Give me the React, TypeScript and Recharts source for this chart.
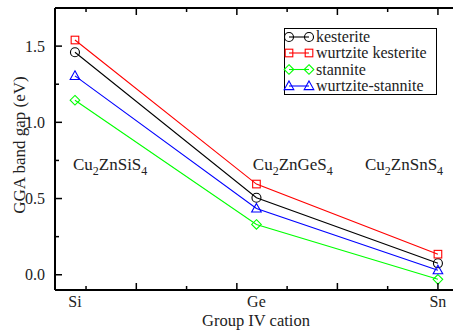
import React from 'react';
import { LineChart, Line, XAxis, YAxis, ReferenceDot } from 'recharts';

// group IV cations, placed at equally spaced positions on the x axis
const cations = ['Si', 'Ge', 'Sn'];
const cationPos = [1, 2, 3];

// GGA band gaps (eV)
const kesterite = [1.46, 0.505, 0.075];
const wurtziteKesterite = [1.54, 0.595, 0.135];
const stannite = [1.145, 0.33, -0.03];
const wurtziteStannite = [1.305, 0.435, 0.03];

// axis ticks (x ticks don't line up with the cations in the original plot)
const xTickPos = [1.061, 1.338, 1.615, 1.892, 2.169, 2.446, 2.723, 3.0];
const yTickPos = [0, 0.25, 0.5, 0.75, 1, 1.25, 1.5];

// compound annotations: start x, baseline y, label
const compounds = ['Cu2ZnSiS4', 'Cu2ZnGeS4', 'Cu2ZnSnS4'];
const compoundX = [0.989, 1.98, 2.598];
const compoundY = [0.69, 0.69, 0.69];

const FONT = '"Liberation Serif", "Times New Roman", serif';
const W = 453;
const H = 332;

const series = [
  { key: 'kesterite', name: 'kesterite', color: '#000000', shape: 'circle', values: kesterite },
  { key: 'wk', name: 'wurtzite kesterite', color: '#ff0000', shape: 'square', values: wurtziteKesterite },
  { key: 'stannite', name: 'stannite', color: '#00ff00', shape: 'diamond', values: stannite },
  { key: 'ws', name: 'wurtzite-stannite', color: '#0000ff', shape: 'triangle', values: wurtziteStannite },
];

const data = cationPos.map((x, i) => {
  const row: any = { x };
  series.forEach((s) => {
    row[s.key] = s.values[i];
  });
  return row;
});

const xTicksAll = Array.from(new Set([...xTickPos, ...cationPos])).sort((a, b) => a - b);
const near = (a: number, b: number) => Math.abs(a - b) < 1e-6;

const Marker = ({ shape, cx, cy, color }: any) => {
  const common = { fill: 'none', stroke: color, strokeWidth: 1.1 };
  switch (shape) {
    case 'circle':
      return <circle cx={cx} cy={cy} r={4.5} {...common} />;
    case 'square':
      return <rect x={cx - 3.8} y={cy - 3.8} width={7.6} height={7.6} {...common} />;
    case 'diamond':
      return (
        <polygon
          points={`${cx},${cy - 4.8} ${cx + 4.8},${cy} ${cx},${cy + 4.8} ${cx - 4.8},${cy}`}
          {...common}
        />
      );
    default:
      return (
        <polygon
          points={`${cx},${cy - 5} ${cx + 4.8},${cy + 3.6} ${cx - 4.8},${cy + 3.6}`}
          {...common}
        />
      );
  }
};

const tickLen = (i: number) => (i % 2 === 1 ? 7 : 4);
const TICK_W = 1.5;

const BottomTick = ({ x, y, payload }: any) => {
  const ti = xTickPos.findIndex((t) => near(t, payload.value));
  const li = cationPos.findIndex((t) => near(t, payload.value));
  return (
    <g>
      {ti >= 0 && (
        <path d={`M${x},${y} L${x},${y - tickLen(ti)}`} stroke="#000" strokeWidth={TICK_W} fill="none" />
      )}
      {li >= 0 && (
        <text x={x} y={y + 17} textAnchor="middle" fontFamily={FONT} fontSize={16} fill="#222">
          {cations[li]}
        </text>
      )}
    </g>
  );
};

const TopTick = ({ x, y, payload }: any) => {
  const ti = xTickPos.findIndex((t) => near(t, payload.value));
  return <path d={`M${x},${y} L${x},${y + tickLen(ti)}`} stroke="#000" strokeWidth={TICK_W} fill="none" />;
};

const yMajor = (v: number) => near(v % 0.5, 0);

const LeftTick = ({ x, y, payload }: any) => {
  const v = payload.value;
  const major = yMajor(v);
  return (
    <g>
      <path d={`M${x},${y} L${x + (major ? 7 : 4)},${y}`} stroke="#000" strokeWidth={TICK_W} fill="none" />
      {major && (
        <text x={x - 10} y={y + 5.5} textAnchor="end" fontFamily={FONT} fontSize={16} fill="#222">
          {v.toFixed(1)}
        </text>
      )}
    </g>
  );
};

const RightTick = ({ x, y, payload }: any) => {
  const major = yMajor(payload.value);
  return <path d={`M${x},${y} L${x - (major ? 7 : 4)},${y}`} stroke="#000" strokeWidth={TICK_W} fill="none" />;
};

// "Cu2ZnSiS4" -> digits as subscripts
const Formula = ({ cx, cy, label }: any) => {
  const parts = label.match(/\d+|\D+/g) || [];
  return (
    <text x={cx} y={cy} fontFamily={FONT} fontSize={17} fill="#222">
      {parts.map((p: string, i: number) =>
        /\d/.test(p) ? (
          <tspan key={i} fontSize={12} dy={5}>
            {p}
          </tspan>
        ) : (
          <tspan key={i} dy={i === 0 ? 0 : -5}>
            {p}
          </tspan>
        )
      )}
    </text>
  );
};

const LegendBox = () => {
  const left = 284.5;
  const top = 28.5;
  const rows = [37, 53, 69.5, 86];
  return (
    <g>
      <rect x={left} y={top} width={152} height={66} fill="#fff" stroke="#000" strokeWidth={1} />
      {series.map((s, i) => (
        <g key={s.key}>
          <line x1={289} x2={309} y1={rows[i]} y2={rows[i]} stroke={s.color} strokeWidth={1.1} />
          <Marker shape={s.shape} cx={289} cy={rows[i]} color={s.color} />
          <Marker shape={s.shape} cx={309} cy={rows[i]} color={s.color} />
          <text x={316} y={rows[i] + 5} fontFamily={FONT} fontSize={16} fill="#222">
            {s.name}
          </text>
        </g>
      ))}
    </g>
  );
};

export default function App() {
  return (
    <div style={{ position: 'absolute', left: 0, top: 0, width: W, height: H, background: '#fff' }}>
      <LineChart width={W} height={H} data={data} margin={{ top: 0, right: 0, bottom: 0, left: 0 }}>
        <XAxis
          dataKey="x"
          type="number"
          domain={[0.89, 3.083]}
          allowDataOverflow
          ticks={xTicksAll}
          interval={0}
          tickSize={0}
          tickMargin={0}
          tickLine={false}
          tick={<BottomTick />}
          axisLine={{ stroke: '#000', strokeWidth: 2 }}
          height={42}
        />
        <XAxis
          xAxisId="top"
          orientation="top"
          dataKey="x"
          type="number"
          domain={[0.89, 3.083]}
          allowDataOverflow
          ticks={xTickPos}
          interval={0}
          tickSize={0}
          tickMargin={0}
          tickLine={false}
          tick={<TopTick />}
          axisLine={{ stroke: '#000', strokeWidth: 2 }}
          height={8}
        />
        <YAxis
          type="number"
          domain={[-0.1, 1.75]}
          allowDataOverflow
          ticks={yTickPos}
          interval={0}
          tickSize={0}
          tickMargin={0}
          tickLine={false}
          tick={<LeftTick />}
          axisLine={{ stroke: '#000', strokeWidth: 2 }}
          width={55}
        />
        <YAxis
          yAxisId="right"
          orientation="right"
          type="number"
          domain={[-0.1, 1.75]}
          allowDataOverflow
          ticks={yTickPos}
          interval={0}
          tickSize={0}
          tickMargin={0}
          tickLine={false}
          tick={<RightTick />}
          axisLine={{ stroke: '#000', strokeWidth: 2 }}
          width={0}
        />
        {series.map((s) => (
          <Line
            key={s.key}
            dataKey={s.key}
            stroke={s.color}
            strokeWidth={1.1}
            isAnimationActive={false}
            dot={(p: any) => <Marker key={`${s.key}-${p.index}`} shape={s.shape} cx={p.cx} cy={p.cy} color={s.color} />}
            activeDot={false}
          />
        ))}
        {compounds.map((c, i) => (
          <ReferenceDot
            key={c}
            x={compoundX[i]}
            y={compoundY[i]}
            r={0}
            shape={(p: any) => <Formula cx={p.cx} cy={p.cy} label={c} />}
          />
        ))}
      </LineChart>
      <svg
        width={W}
        height={H}
        style={{ position: 'absolute', left: 0, top: 0, pointerEvents: 'none' }}
      >
        <LegendBox />
        <text
          transform="translate(25,145) rotate(-90)"
          textAnchor="middle"
          fontFamily={FONT}
          fontSize={17}
          fill="#222"
        >
          GGA band gap (eV)
        </text>
        <text x={256} y={326} textAnchor="middle" fontFamily={FONT} fontSize={16.5} fill="#222">
          Group IV cation
        </text>
      </svg>
    </div>
  );
}
